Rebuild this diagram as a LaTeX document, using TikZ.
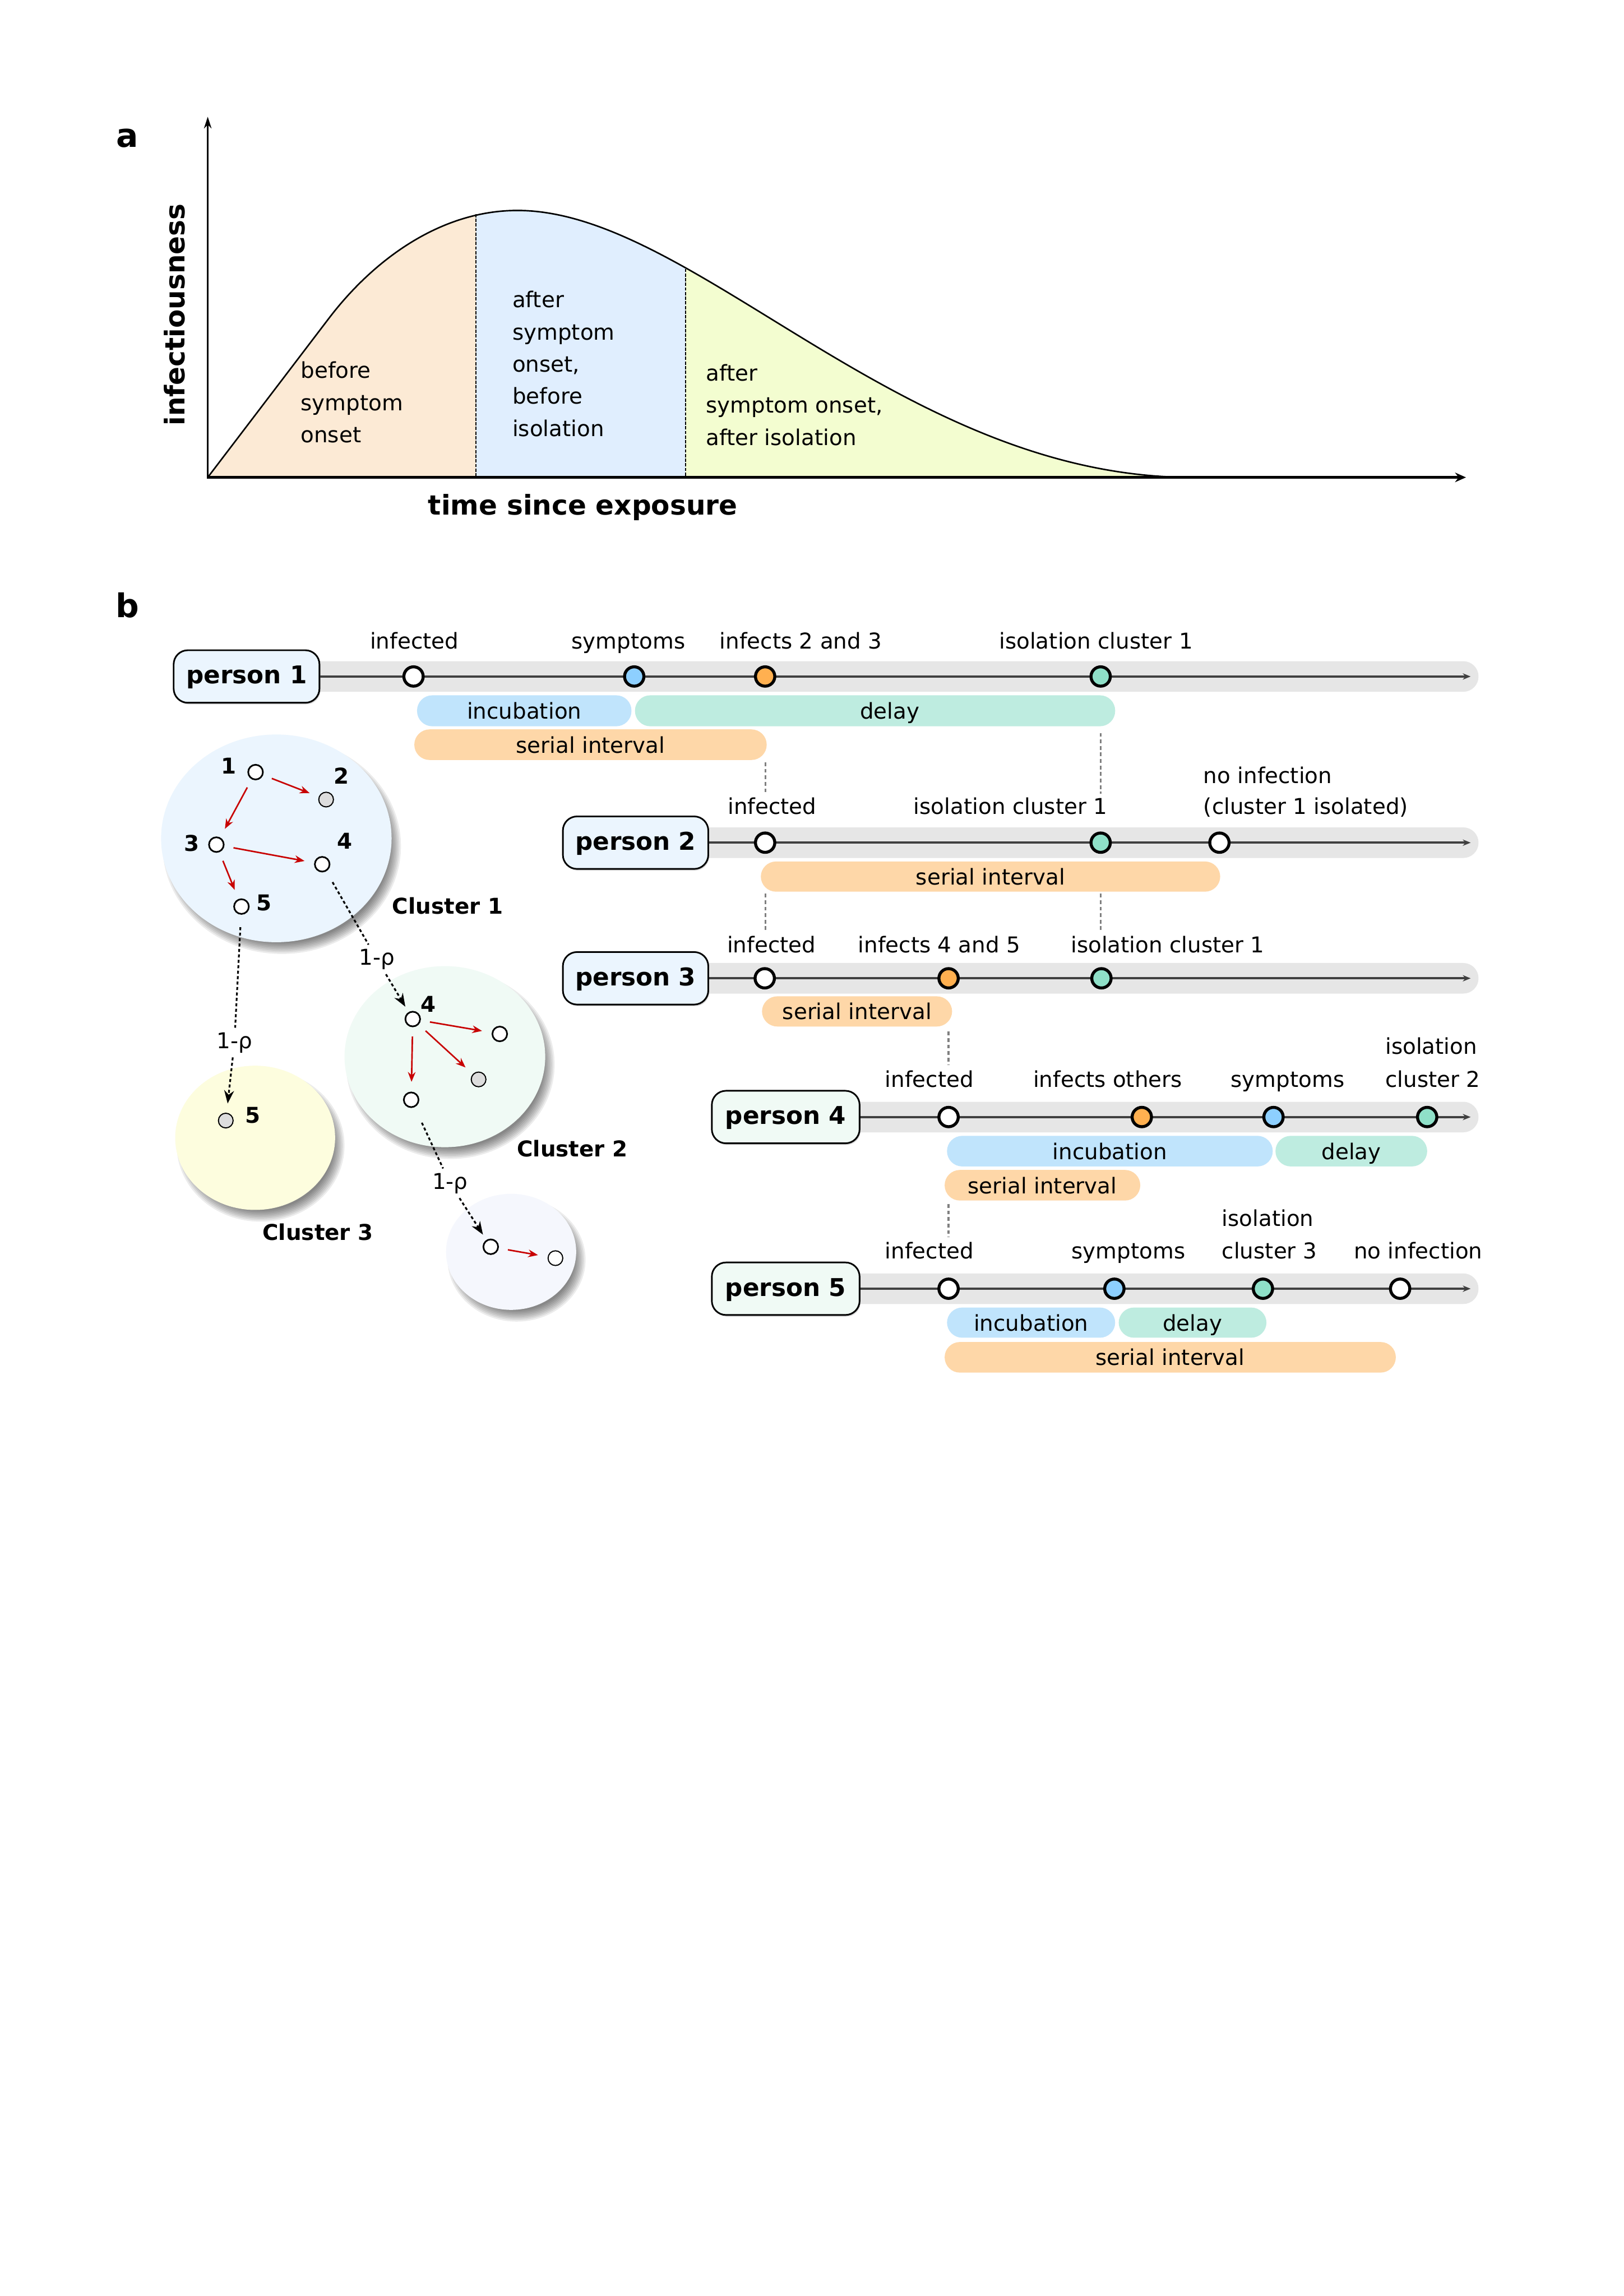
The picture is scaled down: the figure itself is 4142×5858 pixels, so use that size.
\documentclass[tikz,border=0pt]{standalone}
\usepackage{fontspec}
\setmainfont{DejaVu Sans}
\usetikzlibrary{arrows.meta,fit,shadows}
\definecolor{pa1}{RGB}{252,234,213}
\definecolor{pa2}{RGB}{224,238,254}
\definecolor{pa3}{RGB}{243,253,208}
\definecolor{bandc}{RGB}{230,230,230}
\definecolor{tline}{RGB}{64,64,64}
\definecolor{incub}{RGB}{192,228,252}
\definecolor{delayc}{RGB}{190,236,224}
\definecolor{serial}{RGB}{254,215,168}
\definecolor{symc}{RGB}{141,207,255}
\definecolor{infc}{RGB}{255,176,80}
\definecolor{isoc}{RGB}{143,224,200}
\definecolor{boxA}{RGB}{235,245,254}
\definecolor{boxB}{RGB}{240,250,245}
\definecolor{cla}{RGB}{235,245,254}
\definecolor{clb}{RGB}{240,250,245}
\definecolor{clc}{RGB}{253,253,222}
\definecolor{cld}{RGB}{245,247,253}
\definecolor{redarr}{RGB}{200,0,0}
\definecolor{graynode}{RGB}{221,221,221}
\definecolor{vdashc}{RGB}{128,128,128}
\newcommand{\cshadow}[4]{\foreach \k in {0,...,7}{\fill[black,opacity=0.075] ({#1+14},{#2+20}) ellipse [x radius={#3+10-4*\k}, y radius={#4+10-4*\k}];}}
\begin{document}
\begin{tikzpicture}[x=0.144pt,y=-0.144pt,
  lab/.style={font=\fontsize{8}{9.6}\selectfont, inner sep=0pt, anchor=base},
  labw/.style={lab, anchor=base west},
  pbox/.style={draw=black, line width=0.6pt, rounded corners=5.2pt, inner sep=0pt,
    drop shadow={shadow xshift=0.35pt, shadow yshift=-0.6pt, opacity=0.3}},
  ptext/.style={font=\bfseries\fontsize{9}{10.8}\selectfont, inner sep=0pt,
    text height=6.6pt, text depth=1.2pt},
  pill/.style={rounded corners=5.6pt, inner sep=0pt},
  pilltext/.style={font=\fontsize{8}{9.6}\selectfont, inner sep=0pt,
    text height=6pt, text depth=0pt},
  ev/.style={circle, draw=black, line width=1.1pt, minimum size=7.1pt, inner sep=0pt},
  cn/.style={circle, draw=black, line width=0.6pt, minimum size=5.4pt, inner sep=0pt, fill=white},
  cng/.style={cn, fill=graynode, line width=0.4pt},
  clab/.style={font=\bfseries\fontsize{8}{9.6}\selectfont, inner sep=0pt},
  rarr/.style={draw=redarr, line width=0.55pt, -{Stealth[length=3.6pt,width=2.8pt]},
    shorten <=3.4pt, shorten >=3.6pt},
  dline/.style={line width=0.65pt, dash pattern=on 1.1pt off 0.9pt},
  darr/.style={dline, -{Stealth[length=4.8pt,width=3.6pt]}},
  rho/.style={font=\fontsize{8}{9.6}\selectfont, inner sep=1.5pt},
  vd/.style={draw=vdashc, line width=0.7pt, dash pattern=on 1.4pt off 1pt},
  tl/.style={draw=tline, line width=0.77pt, -{Stealth[length=2.9pt,width=2.3pt]}},
  band/.style={fill=bandc, rounded corners=5.6pt}
]
\useasboundingbox (0,0) rectangle (4142,5858);
\fill[white] (0,0) rectangle (4142,5858);

% ---------------- panel a ----------------
\node[font=\bfseries\fontsize{12}{14}\selectfont, inner sep=0pt] (la) at (325,353) {a};
\begin{scope}
\clip (530,1218) -- (840,811) .. controls (950,667) and (1120,537) .. (1320,537)
      .. controls (1770,537) and (2301,1218) .. (3040,1218) -- cycle;
\fill[pa1] (520,500) rectangle (1214,1230);
\fill[pa2] (1214,500) rectangle (1749,1230);
\fill[pa3] (1749,500) rectangle (3050,1230);
\end{scope}
\draw[line width=0.55pt] (530,1218) -- (840,811) .. controls (950,667) and (1120,537) .. (1320,537)
      .. controls (1770,537) and (2301,1218) .. (3040,1218);
\draw[line width=0.45pt, dash pattern=on 1.2pt off 0.5pt] (1214,546) -- (1214,1218);
\draw[line width=0.45pt, dash pattern=on 1.2pt off 0.5pt] (1749,686) -- (1749,1218);
\draw[line width=0.5pt, -{Stealth[length=4.3pt,width=2.8pt]}] (530,1220) -- (530,298);
\draw[line width=1pt, -{Stealth[length=4pt,width=3.5pt]}] (528,1218) -- (3740,1218);

\node[lab, anchor=base west] (ta1) at (766,965) {before};
\node[lab, anchor=base west] (ta2) at (766,1047) {symptom};
\node[lab, anchor=base west] (ta3) at (766,1129) {onset};
\node[lab, anchor=base west] (tb1) at (1306,785) {after};
\node[lab, anchor=base west] (tb2) at (1306,867) {symptom};
\node[lab, anchor=base west] (tb3) at (1306,949) {onset,};
\node[lab, anchor=base west] (tb4) at (1306,1031) {before};
\node[lab, anchor=base west] (tb5) at (1306,1113) {isolation};
\node[lab, anchor=base west] (tc1) at (1800,972) {after};
\node[lab, anchor=base west] (tc2) at (1800,1054) {symptom onset,};
\node[lab, anchor=base west] (tc3) at (1800,1136) {after isolation};
\node[font=\bfseries\fontsize{10}{12}\selectfont, inner sep=0pt, rotate=90] (yl) at (445,803) {infectiousness};
\node[font=\bfseries\fontsize{10}{12}\selectfont, inner sep=0pt, anchor=base] (xl) at (1487,1313) {time since exposure};

% ---------------- panel b ----------------
\node[font=\bfseries\fontsize{12}{14}\selectfont, inner sep=0pt] (lb) at (325,1544) {b};

% person 1
\fill[band] (700,1687) rectangle (3772,1765);
\node[pbox, fill=boxA, fit={(443,1659) (815,1793)}] (P1) {};
\node[ptext] (P1t) at (P1.center) {person 1};
\coordinate (T1) at (3752,1726);
\draw[tl] (P1.east) -- (T1);
\node[ev, fill=white] (E11) at (1055,1726) {};
\node[ev, fill=symc] (E12) at (1618,1726) {};
\node[ev, fill=infc] (E13) at (1952,1726) {};
\node[ev, fill=isoc] (E14) at (2808,1726) {};
\node[lab] (L11) at (1057,1656) {infected};
\node[lab] (L12) at (1603,1656) {symptoms};
\node[lab] (L13) at (2043,1656) {infects 2 and 3};
\node[lab] (L14) at (2796,1656) {isolation cluster 1};
\node[pill, fill=incub, fit={(1064,1774) (1611,1853)}] (B11) {};
\node[pilltext] (B11t) at (B11.center) {incubation};
\node[pill, fill=delayc, fit={(1620,1774) (2845,1853)}] (B12) {};
\node[pilltext] (B12t) at (2270,1814) {delay};
\node[pill, fill=serial, fit={(1057,1861) (1956,1939)}] (B13) {};
\node[pilltext] (B13t) at (B13.center) {serial interval};

% person 2
\fill[band] (1700,2111) rectangle (3772,2189);
\node[pbox, fill=boxA, fit={(1436,2083) (1807,2217)}] (P2) {};
\node[ptext] (P2t) at (P2.center) {person 2};
\coordinate (T2) at (3752,2150);
\draw[tl] (P2.east) -- (T2);
\node[ev, fill=white] (E21) at (1952,2150) {};
\node[ev, fill=isoc] (E22) at (2808,2150) {};
\node[ev, fill=white] (E23) at (3111,2150) {};
\node[lab] (L21) at (1970,2077) {infected};
\node[lab] (L22) at (2578,2077) {isolation cluster 1};
\node[labw] (L23) at (3069,1998) {no infection};
\node[labw] (L24) at (3069,2078) {(cluster 1 isolated)};
\node[pill, fill=serial, fit={(1941,2198) (3113,2275)}] (B21) {};
\node[pilltext] (B21t) at (B21.center) {serial interval};

% person 3
\fill[band] (1700,2457) rectangle (3772,2535);
\node[pbox, fill=boxA, fit={(1436,2429) (1807,2563)}] (P3) {};
\node[ptext] (P3t) at (P3.center) {person 3};
\coordinate (T3) at (3752,2496);
\draw[tl] (P3.east) -- (T3);
\node[ev, fill=white] (E31) at (1951,2496) {};
\node[ev, fill=infc] (E32) at (2420,2496) {};
\node[ev, fill=isoc] (E33) at (2810,2496) {};
\node[lab] (L31) at (1968,2431) {infected};
\node[lab] (L32) at (2396,2431) {infects 4 and 5};
\node[lab] (L33) at (2979,2431) {isolation cluster 1};
\node[pill, fill=serial, fit={(1944,2542) (2429,2619)}] (B31) {};
\node[pilltext] (B31t) at (B31.center) {serial interval};

% person 4
\fill[band] (2100,2811) rectangle (3772,2889);
\node[pbox, fill=boxB, fit={(1816,2783) (2193,2917)}] (P4) {};
\node[ptext] (P4t) at (P4.center) {person 4};
\coordinate (T4) at (3752,2850);
\draw[tl] (P4.east) -- (T4);
\node[ev, fill=white] (E41) at (2420,2850) {};
\node[ev, fill=infc] (E42) at (2913,2850) {};
\node[ev, fill=symc] (E43) at (3249,2850) {};
\node[ev, fill=isoc] (E44) at (3641,2850) {};
\node[lab] (L41) at (2371,2774) {infected};
\node[lab] (L42) at (2826,2774) {infects others};
\node[lab] (L43) at (3285,2774) {symptoms};
\node[labw] (L44) at (3533,2690) {isolation};
\node[labw] (L45) at (3533,2774) {cluster 2};
\node[pill, fill=incub, fit={(2416,2898) (3247,2976)}] (B41) {};
\node[pilltext] (B41t) at (B41.center) {incubation};
\node[pill, fill=delayc, fit={(3254,2898) (3641,2976)}] (B42) {};
\node[pilltext] (B42t) at (B42.center) {delay};
\node[pill, fill=serial, fit={(2410,2985) (2909,3063)}] (B43) {};
\node[pilltext] (B43t) at (B43.center) {serial interval};

% person 5
\fill[band] (2100,3249) rectangle (3772,3327);
\node[pbox, fill=boxB, fit={(1816,3221) (2193,3355)}] (P5) {};
\node[ptext] (P5t) at (P5.center) {person 5};
\coordinate (T5) at (3752,3288);
\draw[tl] (P5.east) -- (T5);
\node[ev, fill=white] (E51) at (2420,3288) {};
\node[ev, fill=symc] (E52) at (2843,3288) {};
\node[ev, fill=isoc] (E53) at (3222,3288) {};
\node[ev, fill=white] (E54) at (3572,3288) {};
\node[lab] (L51) at (2371,3212) {infected};
\node[lab] (L52) at (2879,3212) {symptoms};
\node[labw] (L53) at (3116,3129) {isolation};
\node[labw] (L54) at (3116,3212) {cluster 3};
\node[lab] (L55) at (3618,3212) {no infection};
\node[pill, fill=incub, fit={(2416,3336) (2845,3413)}] (B51) {};
\node[pilltext] (B51t) at (B51.center) {incubation};
\node[pill, fill=delayc, fit={(2854,3336) (3231,3413)}] (B52) {};
\node[pilltext] (B52t) at (B52.center) {delay};
\node[pill, fill=serial, fit={(2410,3424) (3561,3502)}] (B53) {};
\node[pilltext] (B53t) at (B53.center) {serial interval};

% vertical dashed links
\coordinate (V1a) at (1953,1945); \coordinate (V1b) at (1953,2025);
\coordinate (V2a) at (2808,1870); \coordinate (V2b) at (2808,2025);
\coordinate (V3a) at (1953,2280); \coordinate (V3b) at (1953,2374);
\coordinate (V4a) at (2808,2280); \coordinate (V4b) at (2808,2374);
\coordinate (V5a) at (2420,2632); \coordinate (V5b) at (2420,2716);
\coordinate (V6a) at (2420,3072); \coordinate (V6b) at (2420,3156);
\draw[vd] (V1a) -- (V1b);
\draw[vd] (V2a) -- (V2b);
\draw[vd] (V3a) -- (V3b);
\draw[vd] (V4a) -- (V4b);
\draw[vd] (V5a) -- (V5b);
\draw[vd] (V6a) -- (V6b);

% ---------------- clusters ----------------
\cshadow{705}{2139}{294}{265}
\cshadow{1135}{2696}{256}{231}
\cshadow{651}{2903}{204}{184}
\cshadow{1304}{3194}{166}{148}
\fill[cla] (705,2139) ellipse [x radius=294, y radius=265];
\fill[clb] (1135,2696) ellipse [x radius=256, y radius=231];
\fill[clc] (651,2903) ellipse [x radius=204, y radius=184];
\fill[cld] (1304,3194) ellipse [x radius=166, y radius=148];

% cluster 1
\node[cn] (n1) at (652,1970) {};
\node[cng] (n2) at (832,2040) {};
\node[cn] (n3) at (552,2155) {};
\node[cn] (n4) at (822,2205) {};
\node[cn] (n5) at (616,2313) {};
\node[clab] (k1l) at (583,1954) {1};
\node[clab] (k2l) at (871,1980) {2};
\node[clab] (k3l) at (489,2152) {3};
\node[clab] (k4l) at (879,2146) {4};
\node[clab] (k5l) at (673,2304) {5};
\draw[rarr] (n1) -- (n2);
\draw[rarr] (n1) -- (n3);
\draw[rarr] (n3) -- (n4);
\draw[rarr] (n3) -- (n5);

% cluster 2
\node[cn] (m1) at (1053,2600) {};
\node[cn] (m2) at (1275,2638) {};
\node[cng] (m3) at (1221,2754) {};
\node[cn] (m4) at (1049,2806) {};
\node[clab] (m1l) at (1092,2562) {4};
\draw[rarr] (m1) -- (m2);
\draw[rarr] (m1) -- (m3);
\draw[rarr] (m1) -- (m4);

% cluster 3
\node[cng] (k1) at (576,2859) {};
\node[clab] (k1n) at (645,2845) {5};

% cluster 4
\node[cn] (q1) at (1252,3181) {};
\node[cn, line width=0.4pt] (q2) at (1417,3210) {};
\draw[rarr] (q1) -- (q2);

% cluster names
\node[clab] (cn1) at (1142,2311) {Cluster 1};
\node[clab] (cn2) at (1460,2930) {Cluster 2};
\node[clab] (cn3) at (811,3143) {Cluster 3};

% dotted transmissions
\node[rho] (R1) at (962,2448) {1-ρ};
\node[rho] (R2) at (598,2660) {1-ρ};
\node[rho] (R3) at (1148,3019) {1-ρ};
\draw[dline, shorten <=4.6pt] (n4) -- (R1);
\draw[darr, shorten >=2.3pt] (R1) -- (m1);
\draw[dline, shorten <=4.6pt] (n5) -- (R2);
\draw[darr, shorten >=3.4pt] (R2) -- (k1);
\draw[dline, shorten <=6.3pt] (m4) -- (R3);
\draw[darr, shorten >=2.3pt] (R3) -- (q1);
\end{tikzpicture}
\end{document}
